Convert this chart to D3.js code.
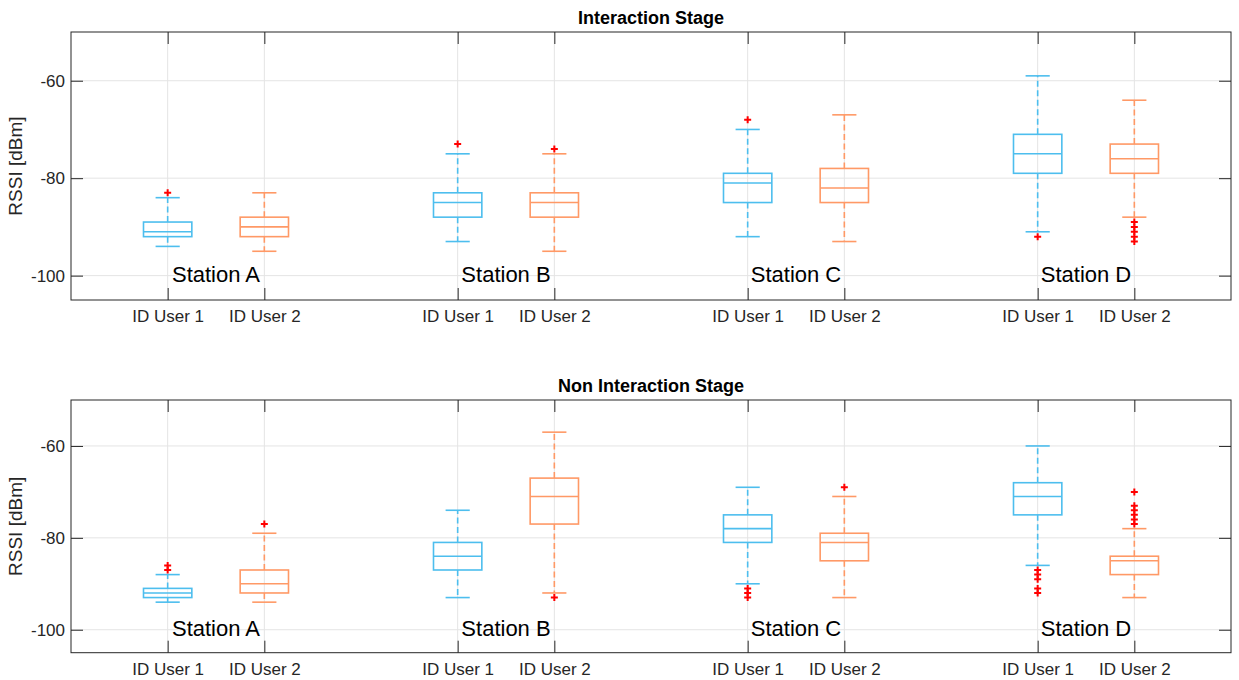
<!DOCTYPE html>
<html>
<head>
<meta charset="utf-8">
<script src="https://cdn.jsdelivr.net/npm/d3@7"></script>
<style>
  html, body { margin: 0; padding: 0; background: #ffffff; }
  svg { display: block; font-family: "Liberation Sans", Arial, Helvetica, sans-serif; }
</style>
</head>
<body>
<svg id="chart" width="1239" height="680"></svg>
<script>
// Categories
const stations = ["Station A", "Station B", "Station C", "Station D"];
const users = ["ID User 1", "ID User 2"];
const yTicks = [-100, -80, -60];
const stageTitles = ["Interaction Stage", "Non Interaction Stage"];

// Interaction stage: one entry per box (A1, A2, B1, B2, C1, C2, D1, D2), RSSI in dBm
const interactionLow     = [-94, -95, -93, -95, -92, -93, -91, -88];
const interactionQ1      = [-92, -92, -88, -88, -85, -85, -79, -79];
const interactionMedian  = [-91, -90, -85, -85, -81, -82, -75, -76];
const interactionQ3      = [-89, -88, -83, -83, -79, -78, -71, -73];
const interactionHigh    = [-84, -83, -75, -75, -70, -67, -59, -64];
const interactionOutliers = [[-83], [], [-73], [-74], [-68], [], [-92], [-89, -90, -91, -92, -93]];

// Non interaction stage
const nonInteractionLow     = [-94, -94, -93, -92, -90, -93, -86, -93];
const nonInteractionQ1      = [-93, -92, -87, -77, -81, -85, -75, -88];
const nonInteractionMedian  = [-92, -90, -84, -71, -78, -81, -71, -85];
const nonInteractionQ3      = [-91, -87, -81, -67, -75, -79, -68, -84];
const nonInteractionHigh    = [-88, -79, -74, -57, -69, -71, -60, -78];
const nonInteractionOutliers = [[-86, -87], [-77], [], [-93], [-91, -92, -93], [-69], [-87, -88, -89, -91, -92], [-70, -73, -74, -75, -76, -77]];

const colors = ["#4dbeee", "#ff9966"];
const axisColor = "#262626";
const gridColor = "#e4e4e4";

const svg = d3.select("#chart");
svg.append("rect").attr("width", 1239).attr("height", 680).attr("fill", "#fff");

const left = 71, right = 1231;
const panels = [
  { top: 32, bottom: 300, title: stageTitles[0],
    low: interactionLow, q1: interactionQ1, med: interactionMedian, q3: interactionQ3, high: interactionHigh, out: interactionOutliers },
  { top: 400, bottom: 652.7, title: stageTitles[1],
    low: nonInteractionLow, q1: nonInteractionQ1, med: nonInteractionMedian, q3: nonInteractionQ3, high: nonInteractionHigh, out: nonInteractionOutliers }
];

// Box positions: two users per station, one empty slot between stations
const boxes = [];
stations.forEach((s, i) => users.forEach((u, j) => boxes.push({ station: i, user: j, pos: 3 * i + j + 1, label: u })));
const tickPositions = boxes.map(b => b.pos);

const x = d3.scaleLinear().domain([0, 12]).range([left, right]);
const boxW = x(0.5) - x(0);
const capW = boxW / 2;

panels.forEach(p => {
  const y = d3.scaleLinear().domain([-105, -50]).range([p.bottom, p.top]);
  const g = svg.append("g");

  // grid
  g.append("g").selectAll("line").data(yTicks).join("line")
    .attr("x1", left).attr("x2", right)
    .attr("y1", d => y(d)).attr("y2", d => y(d))
    .attr("stroke", gridColor).attr("stroke-width", 1);
  g.append("g").selectAll("line").data(tickPositions).join("line")
    .attr("x1", d => x(d)).attr("x2", d => x(d))
    .attr("y1", p.top).attr("y2", p.bottom)
    .attr("stroke", gridColor).attr("stroke-width", 1);

  // axes with inward ticks
  const xb = g.append("g").attr("transform", `translate(0,${p.bottom})`)
    .call(d3.axisBottom(x).tickValues(tickPositions).tickFormat((d, i) => boxes[i].label).tickSizeInner(-12).tickSizeOuter(0));
  xb.selectAll("text").attr("y", 22).attr("dy", null)
    .attr("font-size", 17).attr("fill", axisColor).attr("font-family", null);
  const xt = g.append("g").attr("transform", `translate(0,${p.top})`)
    .call(d3.axisTop(x).tickValues(tickPositions).tickFormat("").tickSizeInner(-12).tickSizeOuter(0));
  const yl = g.append("g").attr("transform", `translate(${left},0)`)
    .call(d3.axisLeft(y).tickValues(yTicks).tickFormat(d => String(d)).tickSizeInner(-12).tickSizeOuter(0).tickPadding(6));
  yl.selectAll("text").attr("font-size", 17).attr("fill", axisColor).attr("font-family", null);
  const yr = g.append("g").attr("transform", `translate(${right},0)`)
    .call(d3.axisRight(y).tickValues(yTicks).tickFormat("").tickSizeInner(-12).tickSizeOuter(0));
  [xb, xt, yl, yr].forEach(a => {
    a.select(".domain").remove();
    a.selectAll(".tick line").attr("stroke", axisColor).attr("stroke-width", 1);
  });
  g.append("rect").attr("x", left).attr("y", p.top)
    .attr("width", right - left).attr("height", p.bottom - p.top)
    .attr("fill", "none").attr("stroke", axisColor).attr("stroke-width", 1);

  // title
  g.append("text").attr("x", (left + right) / 2).attr("y", p.top - 8)
    .attr("text-anchor", "middle").attr("font-weight", "bold").attr("font-size", 18)
    .attr("fill", "#000").text(p.title);

  // y label
  g.append("text").attr("transform", `translate(22,${(p.top + p.bottom) / 2}) rotate(-90)`)
    .attr("text-anchor", "middle").attr("font-size", 19).attr("fill", axisColor).text("RSSI [dBm]");

  // boxplots
  boxes.forEach((b, i) => {
    const cx = x(b.pos);
    const c = colors[b.user];
    const bg = g.append("g").attr("stroke", c).attr("stroke-width", 1.6).attr("fill", "none");
    // whiskers
    bg.append("line").attr("x1", cx).attr("x2", cx).attr("y1", y(p.q3[i])).attr("y2", y(p.high[i]))
      .attr("stroke-dasharray", "6,3.5");
    bg.append("line").attr("x1", cx).attr("x2", cx).attr("y1", y(p.q1[i])).attr("y2", y(p.low[i]))
      .attr("stroke-dasharray", "6,3.5");
    // caps
    [p.high[i], p.low[i]].forEach(v => {
      bg.append("line").attr("x1", cx - capW / 2).attr("x2", cx + capW / 2)
        .attr("y1", y(v)).attr("y2", y(v));
    });
    // box
    bg.append("rect").attr("x", cx - boxW / 2).attr("width", boxW)
      .attr("y", y(p.q3[i])).attr("height", y(p.q1[i]) - y(p.q3[i]));
    // median
    bg.append("line").attr("x1", cx - boxW / 2).attr("x2", cx + boxW / 2)
      .attr("y1", y(p.med[i])).attr("y2", y(p.med[i]));
    // outliers
    const m = 3.5;
    g.append("g").selectAll("path").data(p.out[i]).join("path")
      .attr("d", v => `M${cx - m},${y(v)}H${cx + m}M${cx},${y(v) - m}V${y(v) + m}`)
      .attr("stroke", "#ff0000").attr("stroke-width", 2).attr("fill", "none");
  });

  // station labels
  g.append("g").selectAll("text").data(stations).join("text")
    .attr("x", (d, i) => x(3 * i + 1.5)).attr("y", y(-100)).attr("dy", "0.3em")
    .attr("text-anchor", "middle").attr("font-size", 22).attr("fill", "#000")
    .text(d => d);
});
</script>
</body>
</html>
